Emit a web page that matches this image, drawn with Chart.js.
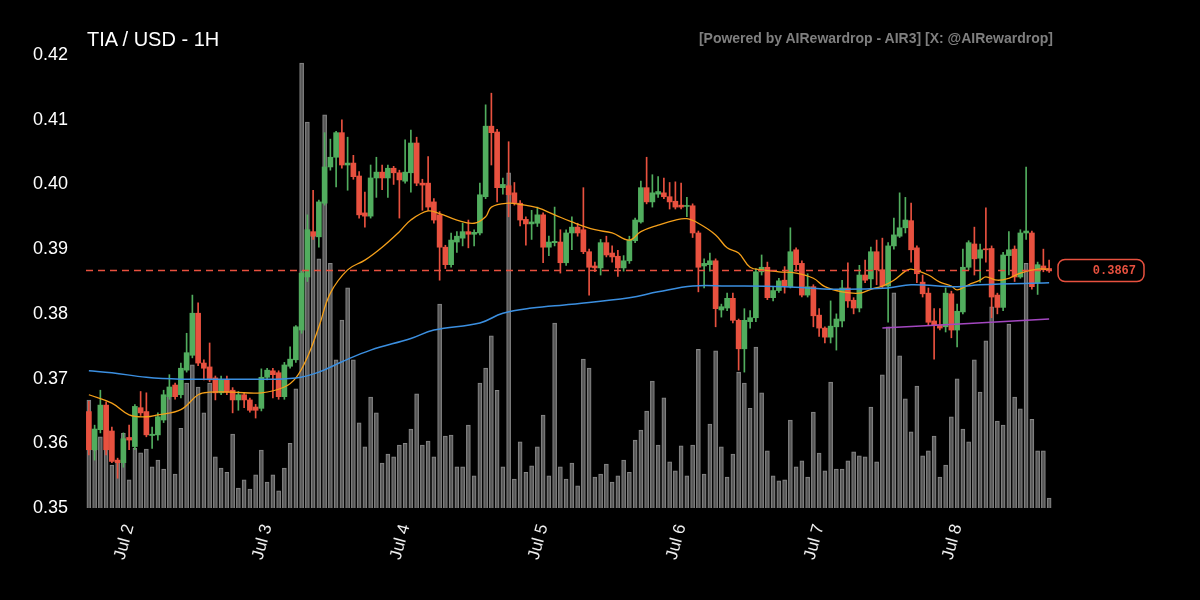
<!DOCTYPE html>
<html>
<head>
<meta charset="utf-8">
<script src="https://cdn.jsdelivr.net/npm/chart.js@4.4.1/dist/chart.umd.min.js"></script>
<style>
  html, body { margin: 0; padding: 0; background: #000; }
  #wrap { position: relative; width: 1200px; height: 600px; }
  #title { position: absolute; left: 87px; top: 28px; color: #fff; font: 20px 'Liberation Sans', Arial, sans-serif; }
  #credit { position: absolute; right: 147px; top: 30px; color: #7f7f7f; font: bold 14px 'Liberation Sans', Arial, sans-serif; }
</style>
</head>
<body>
<div id="wrap">
  <canvas id="chart" width="1200" height="600"></canvas>
  <div id="title">TIA / USD - 1H</div>
  <div id="credit">[Powered by AIRewardrop - AIR3] [X: @AIRewardrop]</div>
</div>
<script>
// hourly candles, first one is Jul 1 17:00
const startDay = 1;
const startHour = 17;

const opens = [
  0.3649,0.3590,0.3621,0.3659,0.3619,0.3574,0.3570,0.3609,0.3595,0.3655,
  0.3649,0.3612,0.3613,0.3636,0.3672,0.3690,0.3675,0.3713,0.3736,0.3801,
  0.3724,0.3718,0.3701,0.3678,0.3698,0.3682,0.3667,0.3675,0.3667,0.3656,
  0.3654,0.3702,0.3712,0.3709,0.3672,0.3719,0.3729,0.3775,0.3857,0.3927,
  0.3919,0.3971,0.4027,0.4042,0.4080,0.4030,0.4033,0.4013,0.3956,0.3951,
  0.4010,0.4019,0.4010,0.4025,0.4018,0.4005,0.4018,0.4064,0.4002,0.4002,
  0.3973,0.3953,0.3903,0.3876,0.3911,0.3917,0.3927,0.3923,0.3925,0.3981,
  0.4090,0.4081,0.3995,0.3998,0.3987,0.3971,0.3946,0.3939,0.3940,0.3953,
  0.3903,0.3910,0.3911,0.3879,0.3925,0.3934,0.3930,0.3896,0.3874,0.3871,
  0.3910,0.3894,0.3889,0.3871,0.3882,0.3913,0.3942,0.3995,0.3973,0.3985,
  0.3987,0.3981,0.3974,0.3968,0.3966,0.3967,0.3925,0.3874,0.3876,0.3882,
  0.3806,0.3809,0.3824,0.3790,0.3746,0.3788,0.3794,0.3865,0.3872,0.3825,
  0.3836,0.3852,0.3842,0.3899,0.3878,0.3829,0.3842,0.3798,0.3778,0.3764,
  0.3780,0.3789,0.3840,0.3821,0.3809,0.3860,0.3854,0.3896,0.3868,0.3843,
  0.3905,0.3920,0.3933,0.3944,0.3902,0.3849,0.3832,0.3789,0.3783,0.3780,
  0.3831,0.3775,0.3803,0.3872,0.3908,0.3886,0.3900,0.3901,0.3829,0.3810,
  0.3890,0.3900,0.3857,0.3925,0.3925,0.3848,0.3874,0.3870
];
const highs = [
  0.3665,0.3628,0.3682,0.3664,0.3625,0.3577,0.3616,0.3628,0.3660,0.3680,
  0.3678,0.3625,0.3647,0.3682,0.3706,0.3693,0.3724,0.3770,0.3829,0.3817,
  0.3729,0.3755,0.3704,0.3704,0.3704,0.3686,0.3680,0.3678,0.3670,0.3660,
  0.3715,0.3716,0.3716,0.3712,0.3725,0.3749,0.3782,0.3866,0.3953,0.3991,
  0.3976,0.4080,0.4070,0.4082,0.4100,0.4073,0.4045,0.4020,0.3988,0.4030,
  0.4042,0.4030,0.4030,0.4028,0.4022,0.4069,0.4084,0.4073,0.4008,0.4043,
  0.3978,0.3958,0.3906,0.3925,0.3927,0.3940,0.3945,0.3930,0.4002,0.4123,
  0.4141,0.4085,0.4010,0.4066,0.4003,0.3975,0.3950,0.3960,0.3965,0.3956,
  0.3920,0.3965,0.3930,0.3930,0.3950,0.3940,0.3995,0.3900,0.3880,0.3915,
  0.3920,0.3905,0.3898,0.3890,0.3920,0.3948,0.4005,0.4042,0.4015,0.4012,
  0.4010,0.4003,0.4004,0.4002,0.3980,0.3970,0.3928,0.3885,0.3894,0.3885,
  0.3815,0.3832,0.3832,0.3792,0.3808,0.3805,0.3870,0.3891,0.3880,0.3842,
  0.3855,0.3873,0.3933,0.3902,0.3882,0.3862,0.3845,0.3808,0.3780,0.3820,
  0.3800,0.3852,0.3879,0.3825,0.3875,0.3883,0.3903,0.3914,0.3917,0.3910,
  0.3948,0.3987,0.3980,0.3971,0.3905,0.3860,0.3840,0.3808,0.3808,0.3840,
  0.3835,0.3815,0.3900,0.3913,0.3934,0.3908,0.3964,0.3905,0.3832,0.3895,
  0.3927,0.3905,0.3930,0.4027,0.3928,0.3880,0.3900,0.3883
];
const lows = [
  0.3582,0.3574,0.3616,0.3582,0.3570,0.3546,0.3563,0.3590,0.3590,0.3643,
  0.3610,0.3592,0.3605,0.3632,0.3668,0.3668,0.3670,0.3710,0.3732,0.3720,
  0.3698,0.3695,0.3667,0.3675,0.3675,0.3647,0.3651,0.3655,0.3648,0.3639,
  0.3650,0.3698,0.3670,0.3668,0.3668,0.3716,0.3725,0.3770,0.3850,0.3915,
  0.3903,0.3968,0.4022,0.3996,0.4025,0.3991,0.4008,0.3948,0.3934,0.3948,
  0.3980,0.3992,0.3980,0.4000,0.3948,0.4002,0.3988,0.3998,0.3960,0.3960,
  0.3940,0.3852,0.3870,0.3872,0.3895,0.3905,0.3902,0.3905,0.3922,0.3978,
  0.4030,0.3973,0.3985,0.3950,0.3968,0.3936,0.3906,0.3915,0.3935,0.3879,
  0.3890,0.3905,0.3863,0.3875,0.3899,0.3920,0.3893,0.3829,0.3865,0.3860,
  0.3888,0.3880,0.3858,0.3866,0.3878,0.3910,0.3940,0.3970,0.3965,0.3980,
  0.3978,0.3962,0.3962,0.3962,0.3950,0.3918,0.3834,0.3840,0.3866,0.3780,
  0.3795,0.3805,0.3786,0.3713,0.3710,0.3778,0.3788,0.3860,0.3822,0.3820,
  0.3833,0.3832,0.3840,0.3866,0.3826,0.3826,0.3780,0.3765,0.3755,0.3755,
  0.3744,0.3780,0.3810,0.3800,0.3803,0.3848,0.3840,0.3845,0.3840,0.3787,
  0.3900,0.3918,0.3925,0.3880,0.3848,0.3826,0.3782,0.3730,0.3775,0.3772,
  0.3763,0.3749,0.3800,0.3868,0.3860,0.3849,0.3880,0.3794,0.3800,0.3805,
  0.3860,0.3850,0.3855,0.3915,0.3838,0.3830,0.3865,0.3864
];
const closes = [
  0.3590,0.3622,0.3659,0.3590,0.3572,0.3570,0.3607,0.3605,0.3657,0.3647,
  0.3613,0.3614,0.3641,0.3675,0.3687,0.3672,0.3716,0.3740,0.3801,0.3724,
  0.3716,0.3698,0.3678,0.3698,0.3679,0.3667,0.3675,0.3667,0.3651,0.3651,
  0.3702,0.3713,0.3706,0.3672,0.3721,0.3730,0.3780,0.3863,0.3930,0.3920,
  0.3973,0.4027,0.4042,0.4080,0.4030,0.4033,0.4012,0.3953,0.3951,0.4010,
  0.4019,0.4010,0.4025,0.4018,0.4007,0.4019,0.4064,0.4002,0.3999,0.3965,
  0.3945,0.3903,0.3876,0.3914,0.3920,0.3927,0.3923,0.3926,0.3984,0.4090,
  0.4080,0.3995,0.4000,0.3984,0.3971,0.3945,0.3939,0.3942,0.3953,0.3903,
  0.3911,0.3912,0.3879,0.3925,0.3934,0.3925,0.3896,0.3872,0.3871,0.3910,
  0.3891,0.3888,0.3871,0.3882,0.3914,0.3945,0.3995,0.3973,0.3987,0.3989,
  0.3981,0.3973,0.3965,0.3965,0.3967,0.3925,0.3872,0.3878,0.3882,0.3808,
  0.3811,0.3824,0.3790,0.3746,0.3790,0.3794,0.3865,0.3872,0.3825,0.3836,
  0.3851,0.3842,0.3896,0.3876,0.3829,0.3842,0.3797,0.3778,0.3764,0.3781,
  0.3792,0.3840,0.3820,0.3809,0.3860,0.3852,0.3896,0.3868,0.3843,0.3905,
  0.3922,0.3933,0.3945,0.3899,0.3862,0.3831,0.3787,0.3783,0.3778,0.3832,
  0.3775,0.3804,0.3872,0.3910,0.3885,0.3899,0.3899,0.3826,0.3810,0.3891,
  0.3899,0.3857,0.3925,0.3928,0.3842,0.3876,0.3868,0.3867
];
const volumes = [
  23.8,12.8,15.7,16.8,9.5,10.2,16.5,6.2,13.2,12.2,
  13.0,9.1,10.6,8.6,25.0,7.5,17.6,27.6,31.6,26.7,
  21.0,27.6,11.3,8.8,7.9,16.3,4.4,6.2,4.2,7.3,
  12.8,5.7,7.3,3.8,8.8,14.3,26.3,98.2,85.2,60.0,
  55.0,86.8,54.0,32.7,41.5,48.6,32.7,18.8,13.5,24.5,
  21.0,9.9,11.9,11.3,13.9,14.3,17.4,25.2,13.9,14.8,
  11.3,45.0,15.9,16.1,9.1,9.1,18.3,7.1,27.6,30.9,
  38.0,26.0,9.1,74.0,6.4,14.6,7.9,9.3,13.5,20.5,
  7.1,40.8,9.1,6.4,9.9,4.9,32.9,30.9,6.8,7.5,
  9.7,5.7,7.1,10.6,7.9,15.0,17.2,21.4,28.0,13.9,
  24.3,10.2,8.2,13.7,7.1,13.9,35.0,7.5,18.5,34.7,
  13.5,6.8,11.9,30.0,27.6,22.0,35.5,25.4,12.6,7.1,
  6.0,6.2,19.4,9.1,10.4,6.8,21.2,12.1,8.2,27.8,
  8.6,8.6,10.4,12.4,11.5,11.3,22.3,10.2,29.4,40.0,
  47.5,33.6,24.1,16.8,26.9,11.5,12.6,15.9,6.8,9.5,
  20.1,28.5,17.4,14.6,32.7,25.6,36.9,44.4,19.2,18.3,
  40.6,24.5,21.9,54.0,19.6,12.6,12.6,2.2
];

// moving averages at a few candles
const maFastIdx = [0,4,7,10,12,16,19,21,25,30,34,36,38,40,42,45,48,51,54,56,59,61,64,67,69,70,73,75,78,81,84,88,91,94,96,99,102,104,106,109,111,113,115,117,120,123,126,128,131,134,136,138,140,142,143,146,148,150,151,153,155,156,158,160,162,165,167];
const maFastVal = [0.3675,0.3662,0.3644,0.3641,0.3644,0.3652,0.3675,0.3679,0.3679,0.3678,0.3687,0.3701,0.3733,0.3780,0.3832,0.3868,0.3883,0.3903,0.3927,0.3945,0.3959,0.3955,0.3945,0.3940,0.3950,0.3965,0.3971,0.3969,0.3964,0.3953,0.3942,0.3930,0.3925,0.3914,0.3927,0.3937,0.3945,0.3947,0.3940,0.3922,0.3902,0.3894,0.3872,0.3868,0.3865,0.3863,0.3855,0.3842,0.3834,0.3832,0.3838,0.3843,0.3852,0.3866,0.3869,0.3860,0.3849,0.3843,0.3837,0.3845,0.3852,0.3857,0.3852,0.3855,0.3863,0.3869,0.3869];
const maSlowIdx = [0,4,10,16,22,28,36,40,44,49,56,60,68,72,77,84,94,99,105,111,121,130,139,143,151,155,167];
const maSlowVal = [0.3712,0.3709,0.3702,0.3699,0.3699,0.3699,0.3701,0.3710,0.3726,0.3744,0.3762,0.3775,0.3786,0.3801,0.3809,0.3815,0.3825,0.3834,0.3843,0.3843,0.3842,0.3838,0.3840,0.3845,0.3842,0.3845,0.3848];
const maLongIdx = [138,153,167];
const maLongVal = [0.3778,0.3785,0.3792];

const UP = '#51ad5e';
const DOWN = '#e8513f';

const labels = closes.map((_, i) => {
  const h = startHour + i;
  const day = startDay + Math.floor(h / 24);
  return 'Jul ' + day + ' ' + String(h % 24).padStart(2, '0') + ':00';
});

function sparse(idx, val) {
  const out = new Array(closes.length).fill(null);
  idx.forEach((k, j) => { out[k] = val[j]; });
  return out;
}

const candleColors = closes.map((c, i) => c >= opens[i] ? UP : DOWN);
const lastClose = closes[closes.length - 1];

// dashed last-price line and the boxed price tag on the right
const priceTag = {
  id: 'priceTag',
  afterDatasetsDraw(chart) {
    const { ctx, chartArea, scales } = chart;
    const y = Math.round(scales.y.getPixelForValue(lastClose)) + 0.5;
    ctx.save();
    ctx.strokeStyle = '#e8513f';
    ctx.lineWidth = 1.3;
    ctx.setLineDash([7, 5]);
    ctx.beginPath();
    ctx.moveTo(chartArea.left, y);
    ctx.lineTo(chartArea.right, y);
    ctx.stroke();
    ctx.setLineDash([]);
    ctx.lineWidth = 1.5;
    ctx.beginPath();
    ctx.roundRect(1058, y - 11, 86, 22, 7);
    ctx.stroke();
    ctx.fillStyle = '#e8513f';
    ctx.font = 'bold 12px "Liberation Mono", "DejaVu Sans Mono", monospace';
    ctx.textAlign = 'right';
    ctx.textBaseline = 'middle';
    ctx.fillText(lastClose.toFixed(4), 1136, y);
    ctx.restore();
  }
};

Chart.defaults.font.family = "'Liberation Sans', Arial, sans-serif";

new Chart(document.getElementById('chart'), {
  type: 'bar',
  data: {
    labels: labels,
    datasets: [
      {
        label: 'Volume',
        data: volumes,
        yAxisID: 'yVol',
        backgroundColor: 'rgba(95,95,95,0.9)',
        borderColor: 'rgba(150,150,150,0.9)',
        borderWidth: 1,
        barThickness: 4,
        grouped: false,
        order: 10
      },
      {
        label: 'Wick',
        data: lows.map((l, i) => [l, highs[i]]),
        backgroundColor: candleColors,
        barThickness: 1,
        grouped: false,
        order: 5
      },
      {
        label: 'Body',
        data: opens.map((o, i) => [o, closes[i]]),
        backgroundColor: candleColors,
        barThickness: 5,
        minBarLength: 1,
        grouped: false,
        order: 4
      },
      {
        type: 'line',
        label: 'MA fast',
        data: sparse(maFastIdx, maFastVal),
        borderColor: '#f5a01a',
        borderWidth: 1.3,
        pointRadius: 0,
        spanGaps: true,
        tension: 0.4,
        order: 2
      },
      {
        type: 'line',
        label: 'MA slow',
        data: sparse(maSlowIdx, maSlowVal),
        borderColor: '#3b8fe0',
        borderWidth: 1.5,
        pointRadius: 0,
        spanGaps: true,
        tension: 0.4,
        order: 1
      },
      {
        type: 'line',
        label: 'MA long',
        data: sparse(maLongIdx, maLongVal),
        borderColor: '#a347c0',
        borderWidth: 1.5,
        pointRadius: 0,
        spanGaps: true,
        tension: 0.4,
        order: 0
      }
    ]
  },
  options: {
    responsive: false,
    animation: false,
    layout: { padding: { left: 0, right: 148, top: 55, bottom: 0 } },
    plugins: {
      legend: { display: false },
      tooltip: { enabled: false }
    },
    scales: {
      x: {
        offset: true,
        grid: { display: false },
        border: { display: false },
        ticks: {
          autoSkip: false,
          maxRotation: 75,
          minRotation: 75,
          padding: 6,
          color: '#eeeeee',
          font: { size: 17 },
          callback: (v, i) => {
            const h = startHour + i;
            return h % 24 === 0 ? 'Jul ' + (startDay + h / 24) : '';
          }
        },
        afterFit: (s) => { s.height = 92; }
      },
      y: {
        min: 0.35,
        max: 0.42,
        grid: { display: false },
        border: { display: false },
        ticks: {
          stepSize: 0.01,
          padding: 10,
          color: '#ffffff',
          font: { size: 18 },
          callback: (v) => v.toFixed(2)
        },
        afterFit: (s) => { s.width = 86; }
      },
      yVol: {
        display: false,
        min: 0,
        max: 100
      }
    }
  },
  plugins: [priceTag]
});
</script>
</body>
</html>
